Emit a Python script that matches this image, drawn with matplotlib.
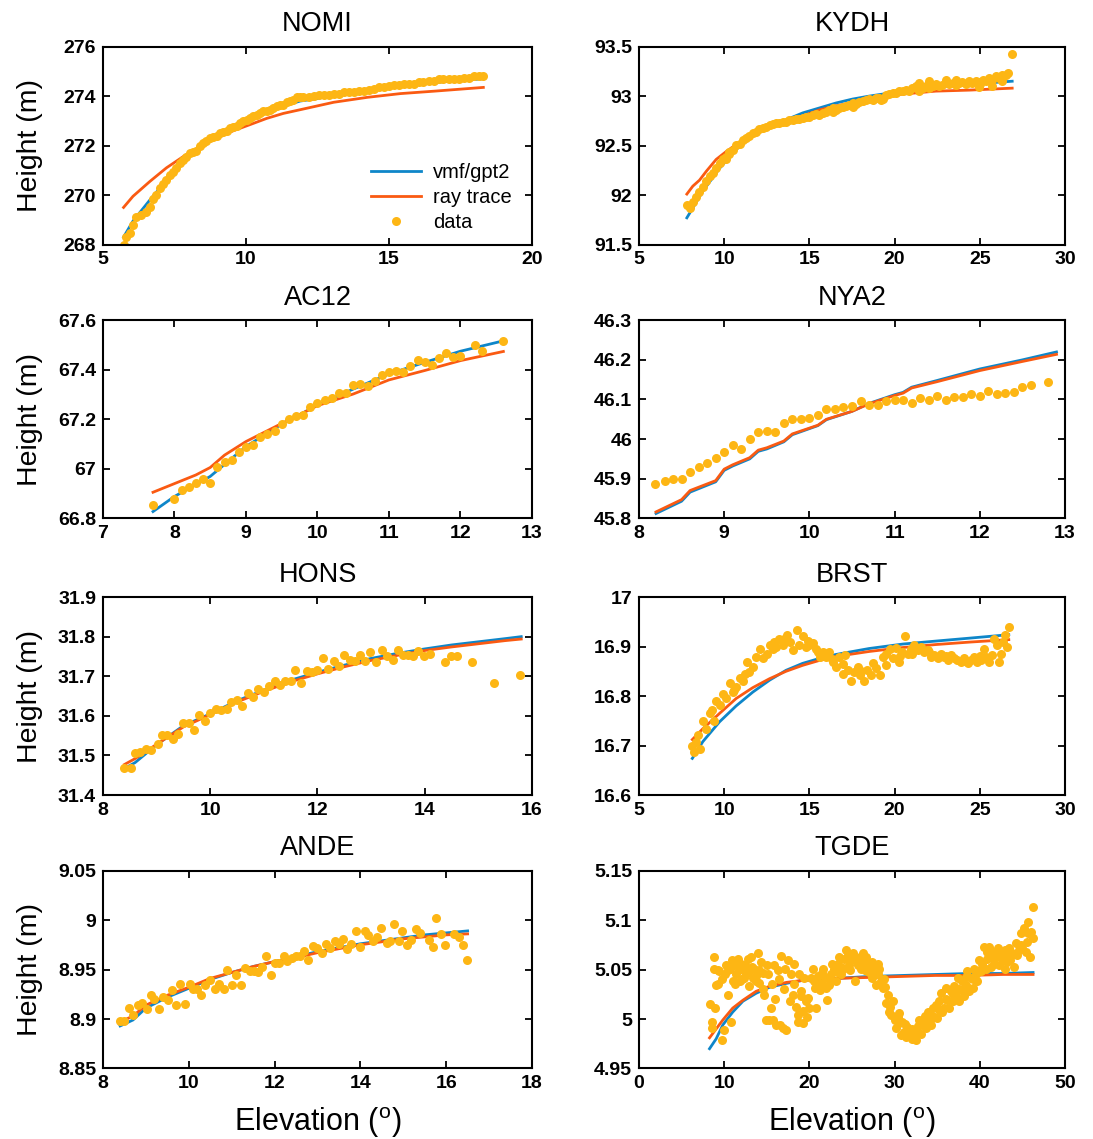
import numpy as np
import matplotlib.pyplot as plt
from matplotlib.ticker import FuncFormatter

plt.rcParams['font.family'] = ['Liberation Sans', 'DejaVu Sans']
plt.rcParams['mathtext.fontset'] = 'custom'
plt.rcParams['mathtext.rm'] = 'Liberation Sans'

BLUE = '#0E86C9'
ORANGE = '#FA5A12'
YELLOW = '#FDB614'

# ---------------- NOMI ----------------
nomi_obs = [(5.72, 268.0), (5.82, 268.3), (5.93, 268.45), (6.05, 268.8), (6.17, 269.1), (6.34, 269.2),
            (6.52, 269.3), (6.64, 269.5), (6.75, 269.85), (6.87, 270.0), (6.99, 270.3), (7.1, 270.45),
            (7.22, 270.6), (7.34, 270.8), (7.45, 270.95), (7.57, 271.1), (7.69, 271.3), (7.8, 271.4),
            (7.92, 271.55), (8.04, 271.7), (8.15, 271.75), (8.27, 271.8), (8.39, 272.0), (8.5, 272.1),
            (8.62, 272.2), (8.74, 272.3), (8.85, 272.35), (8.97, 272.4), (9.09, 272.5), (9.2, 272.55),
            (9.32, 272.6), (9.44, 272.7), (9.56, 272.75), (9.67, 272.8), (9.79, 272.9), (9.91, 273.0),
            (10.03, 273.05), (10.15, 273.1), (10.26, 273.2), (10.38, 273.25), (10.5, 273.3), (10.61, 273.4),
            (10.73, 273.4), (10.85, 273.45), (10.96, 273.5), (11.08, 273.6), (11.2, 273.65), (11.31, 273.65),
            (11.43, 273.75), (11.55, 273.8), (11.66, 273.85), (11.78, 273.95), (11.9, 273.95), (12.0, 273.95),
            (12.2, 273.95), (12.37, 274.0), (12.55, 274.05), (12.72, 274.05), (12.9, 274.05), (13.07, 274.1),
            (13.25, 274.1), (13.43, 274.15), (13.6, 274.15), (13.78, 274.15), (13.95, 274.2), (14.13, 274.2),
            (14.3, 274.25), (14.48, 274.3), (14.65, 274.35), (14.83, 274.35), (15.0, 274.4), (15.17, 274.45),
            (15.35, 274.45), (15.52, 274.5), (15.7, 274.5), (15.87, 274.5), (16.05, 274.55), (16.2, 274.55),
            (16.4, 274.6), (16.57, 274.6), (16.74, 274.7), (16.9, 274.7), (17.1, 274.7), (17.27, 274.7),
            (17.45, 274.7), (17.62, 274.75), (17.8, 274.75), (17.97, 274.8), (18.15, 274.8), (18.3, 274.8)]
nomi_vmf_el = [5.72, 6.05, 6.64, 7.22, 7.8, 8.39, 8.97, 9.56, 10.15, 10.73, 11.31, 11.9, 12.5, 13.07, 14.25, 15.4, 16.6, 18.3]
nomi_vmf = [268.3, 268.95, 269.8, 270.6, 271.35, 271.9, 272.4, 272.8, 273.1, 273.4, 273.6, 273.8, 273.9, 274.05, 274.25, 274.4, 274.55, 274.7]
nomi_ray_el = [5.72, 6.05, 6.64, 7.22, 7.8, 8.39, 8.97, 9.56, 10.15, 10.73, 11.31, 11.9, 13.07, 14.25, 15.4, 16.6, 18.3]
nomi_ray = [269.5, 269.95, 270.55, 271.1, 271.55, 271.95, 272.3, 272.6, 272.85, 273.1, 273.3, 273.45, 273.75, 273.95, 274.1, 274.2, 274.35]

# ---------------- KYDH ----------------
kydh_obs = [(7.81, 91.9), (7.97, 91.87), (8.16, 91.93), (8.36, 91.98), (8.55, 92.03), (8.75, 92.08), (8.95, 92.14),
            (9.14, 92.19), (9.34, 92.22), (9.53, 92.27), (9.73, 92.32), (9.92, 92.36), (10.12, 92.38), (10.31, 92.44),
            (10.51, 92.46), (10.7, 92.51), (10.9, 92.52), (11.09, 92.56), (11.29, 92.58), (11.48, 92.6), (11.68, 92.63),
            (11.88, 92.64), (12.07, 92.67), (12.27, 92.68), (12.46, 92.69), (12.66, 92.71), (12.85, 92.72), (13.05, 92.73),
            (13.24, 92.73), (13.44, 92.74), (13.63, 92.74), (13.83, 92.76), (14.02, 92.76), (14.22, 92.77), (14.41, 92.77),
            (14.61, 92.78), (14.8, 92.79), (15.0, 92.79), (15.2, 92.81), (15.39, 92.82), (15.59, 92.81), (15.78, 92.83),
            (15.98, 92.84), (16.17, 92.86), (16.37, 92.88), (16.56, 92.86), (16.76, 92.88), (16.95, 92.89), (17.15, 92.9),
            (17.34, 92.91), (17.54, 92.93), (17.73, 92.92), (17.93, 92.94), (18.13, 92.95), (18.32, 92.96), (18.52, 92.97),
            (18.71, 92.96), (18.91, 92.98), (19.1, 92.98), (19.3, 92.97), (19.49, 93.01), (19.69, 93.02), (19.88, 93.03),
            (20.08, 93.03), (20.27, 93.05), (20.47, 93.05), (20.66, 93.06), (20.86, 93.05), (21.05, 93.08), (21.25, 93.1),
            (21.45, 93.13), (21.64, 93.08), (21.84, 93.1), (22.03, 93.15), (22.23, 93.1), (22.42, 93.12), (22.62, 93.1),
            (22.81, 93.11), (23.0, 93.16), (23.2, 93.12), (23.4, 93.13), (23.59, 93.11), (23.79, 93.13), (23.98, 93.14),
            (24.18, 93.12), (24.38, 93.15), (24.57, 93.13), (24.77, 93.15), (24.96, 93.14), (25.16, 93.16), (25.35, 93.15),
            (25.55, 93.18), (25.74, 93.16), (25.94, 93.2), (26.13, 93.18), (26.33, 93.21), (26.52, 93.21), (26.68, 93.23),
            (26.88, 93.43), (22.03, 93.08), (24.96, 93.09), (25.74, 93.1), (23.59, 93.16), (21.45, 93.05), (16.37, 92.84),
            (10.31, 92.41), (10.12, 92.36), (17.54, 92.89), (19.2, 92.96), (26.3, 93.15), (25.0, 93.12)]
kydh_vmf_el = [7.81, 8.16, 8.75, 9.73, 10.7, 11.68, 12.66, 13.63, 14.61, 15.59, 16.56, 17.54, 18.52, 20.47, 22.42, 24.38, 26.9]
kydh_vmf = [91.77, 91.87, 92.04, 92.27, 92.46, 92.6, 92.69, 92.76, 92.83, 92.88, 92.93, 92.97, 93.0, 93.05, 93.09, 93.12, 93.15]
kydh_ray_el = [7.81, 8.16, 8.55, 8.95, 9.53, 10.12, 10.7, 11.68, 12.66, 13.63, 14.61, 15.59, 16.56, 18.52, 20.47, 22.42, 24.38, 26.9]
kydh_ray = [92.01, 92.09, 92.15, 92.24, 92.36, 92.44, 92.51, 92.61, 92.69, 92.74, 92.8, 92.86, 92.9, 92.97, 93.02, 93.05, 93.06, 93.08]

# ---------------- AC12 ----------------
ac12_obs = [(7.7, 66.855), (8.0, 66.878), (8.1, 66.913), (8.2, 66.926), (8.3, 66.944), (8.4, 66.96), (8.5, 66.944),
            (8.6, 67.009), (8.7, 67.026), (8.8, 67.037), (8.9, 67.068), (9.0, 67.086), (9.1, 67.098), (9.2, 67.127),
            (9.3, 67.14), (9.4, 67.151), (9.5, 67.181), (9.6, 67.2), (9.7, 67.212), (9.8, 67.216), (9.9, 67.249),
            (10.0, 67.265), (10.1, 67.277), (10.2, 67.285), (10.3, 67.307), (10.4, 67.307), (10.5, 67.337), (10.6, 67.341),
            (10.7, 67.336), (10.8, 67.356), (10.9, 67.379), (11.0, 67.39), (11.1, 67.395), (11.2, 67.39), (11.3, 67.414),
            (11.4, 67.438), (11.5, 67.433), (11.6, 67.42), (11.7, 67.449), (11.8, 67.468), (11.9, 67.45), (12.0, 67.455),
            (12.2, 67.5), (12.3, 67.474), (12.6, 67.516)]
ac12_vmf_el = [7.7, 8.0, 8.5, 9.0, 9.5, 10.0, 10.5, 11.0, 11.5, 12.0, 12.6]
ac12_vmf = [66.827, 66.888, 66.969, 67.09, 67.18, 67.257, 67.322, 67.383, 67.43, 67.475, 67.517]
ac12_ray_el = [7.7, 8.0, 8.3, 8.5, 8.7, 9.0, 9.5, 10.0, 10.5, 11.0, 11.5, 12.0, 12.6]
ac12_ray = [66.905, 66.94, 66.975, 67.005, 67.055, 67.11, 67.183, 67.255, 67.302, 67.359, 67.397, 67.437, 67.474]

# ---------------- NYA2 ----------------
nya2_obs = [(8.19, 45.886), (8.3, 45.893), (8.4, 45.9), (8.5, 45.9), (8.6, 45.916), (8.7, 45.93), (8.8, 45.939),
            (8.9, 45.953), (9.0, 45.968), (9.1, 45.986), (9.2, 45.975), (9.3, 46.0), (9.4, 46.017), (9.5, 46.02),
            (9.6, 46.017), (9.7, 46.04), (9.8, 46.05), (9.9, 46.05), (10.0, 46.054), (10.1, 46.06), (10.2, 46.076),
            (10.3, 46.076), (10.4, 46.08), (10.5, 46.083), (10.6, 46.095), (10.7, 46.087), (10.8, 46.087), (10.9, 46.095),
            (11.0, 46.099), (11.1, 46.099), (11.2, 46.091), (11.3, 46.103), (11.4, 46.099), (11.5, 46.109), (11.6, 46.099),
            (11.7, 46.105), (11.8, 46.105), (11.9, 46.114), (12.0, 46.109), (12.1, 46.122), (12.2, 46.114), (12.3, 46.117),
            (12.4, 46.12), (12.5, 46.132), (12.6, 46.136), (12.8, 46.143)]
nya2_vmf_el = [8.2, 8.5, 8.6, 8.9, 9.0, 9.1, 9.3, 9.4, 9.5, 9.7, 9.8, 10.1, 10.2, 10.5, 10.7, 11.0, 11.1, 11.2, 11.5, 12.0, 12.5, 12.9]
nya2_vmf = [45.812, 45.843, 45.866, 45.892, 45.921, 45.932, 45.95, 45.969, 45.975, 45.993, 46.011, 46.034, 46.049, 46.07, 46.09,
            46.112, 46.118, 46.131, 46.148, 46.177, 46.2, 46.22]
nya2_ray_el = [8.2, 8.5, 8.6, 8.9, 9.0, 9.1, 9.3, 9.4, 9.5, 9.7, 9.8, 10.1, 10.2, 10.5, 10.7, 11.0, 11.1, 11.2, 11.5, 12.0, 12.5, 12.9]
nya2_ray = [45.816, 45.847, 45.87, 45.895, 45.924, 45.935, 45.953, 45.972, 45.978, 45.995, 46.013, 46.035, 46.05, 46.07, 46.089,
            46.11, 46.116, 46.129, 46.145, 46.173, 46.196, 46.214]

# ---------------- HONS ----------------
hons_obs = [(8.39, 31.467), (8.52, 31.467), (8.59, 31.505), (8.7, 31.509), (8.81, 31.516), (8.9, 31.513), (9.02, 31.528),
            (9.1, 31.551), (9.2, 31.551), (9.3, 31.542), (9.4, 31.555), (9.5, 31.583), (9.6, 31.583), (9.69, 31.565),
            (9.8, 31.602), (9.91, 31.587), (10.0, 31.608), (10.1, 31.617), (10.2, 31.614), (10.31, 31.617), (10.39, 31.636),
            (10.5, 31.64), (10.6, 31.624), (10.7, 31.658), (10.79, 31.647), (10.9, 31.669), (11.0, 31.661), (11.1, 31.676),
            (11.2, 31.687), (11.3, 31.678), (11.4, 31.687), (11.5, 31.687), (11.59, 31.716), (11.7, 31.684), (11.8, 31.713),
            (11.9, 31.711), (12.0, 31.716), (12.1, 31.745), (12.2, 31.719), (12.3, 31.739), (12.41, 31.726), (12.5, 31.753),
            (12.6, 31.742), (12.7, 31.739), (12.79, 31.753), (12.89, 31.739), (12.98, 31.761), (13.1, 31.735), (13.2, 31.767),
            (13.29, 31.75), (13.4, 31.742), (13.5, 31.767), (13.59, 31.753), (13.69, 31.753), (13.79, 31.75), (13.88, 31.764),
            (13.99, 31.75), (14.09, 31.756), (14.38, 31.735), (14.49, 31.75), (14.6, 31.75), (14.88, 31.735), (15.29, 31.684),
            (15.78, 31.703)]
hons_vmf_el = [8.4, 8.6, 9.0, 9.5, 10.0, 10.5, 11.0, 11.5, 12.0, 12.5, 13.0, 13.5, 14.0, 14.5, 15.0, 15.5, 15.8]
hons_vmf = [31.467, 31.482, 31.527, 31.575, 31.605, 31.638, 31.665, 31.69, 31.71, 31.728, 31.745, 31.758, 31.769, 31.779, 31.787,
            31.795, 31.8]
hons_ray_el = [8.4, 8.6, 9.0, 9.5, 10.0, 10.5, 11.0, 11.5, 12.0, 12.5, 13.0, 13.5, 14.0, 14.5, 15.0, 15.5, 15.8]
hons_ray = [31.477, 31.492, 31.528, 31.572, 31.603, 31.635, 31.662, 31.686, 31.706, 31.724, 31.74, 31.753, 31.765, 31.774, 31.782,
            31.79, 31.794]

# ---------------- BRST ----------------
brst_obs = [(8.13, 16.7), (8.2, 16.687), (8.36, 16.708), (8.48, 16.722), (8.59, 16.694), (8.75, 16.749), (8.95, 16.734),
            (9.14, 16.765), (9.38, 16.749), (9.53, 16.79), (9.73, 16.782), (9.96, 16.805), (10.12, 16.796), (10.35, 16.827),
            (10.5, 16.808), (10.7, 16.819), (10.9, 16.837), (11.1, 16.83), (11.33, 16.869), (11.48, 16.849), (11.68, 16.859),
            (11.88, 16.879), (12.11, 16.895), (12.3, 16.876), (12.5, 16.884), (12.66, 16.904), (12.85, 16.895), (13.05, 16.9),
            (13.24, 16.916), (13.44, 16.903), (13.67, 16.924), (13.87, 16.909), (14.02, 16.893), (14.26, 16.934),
            (14.41, 16.903), (14.61, 16.922), (14.8, 16.9), (15.0, 16.903), (15.23, 16.907), (15.39, 16.895), (15.62, 16.879),
            (15.78, 16.889), (15.98, 16.879), (16.17, 16.888), (16.37, 16.869), (16.56, 16.859), (16.76, 16.879),
            (16.95, 16.845), (17.11, 16.882), (17.27, 16.852), (17.44, 16.83), (17.64, 16.849), (17.83, 16.859),
            (17.97, 16.842), (18.2, 16.83), (18.36, 16.852), (18.61, 16.842), (18.75, 16.866), (18.91, 16.856),
            (19.14, 16.842), (19.3, 16.879), (19.49, 16.862), (19.73, 16.896), (19.88, 16.876), (20.08, 16.897),
            (20.23, 16.869), (20.43, 16.889), (20.63, 16.922), (20.77, 16.885), (20.96, 16.896), (21.15, 16.904),
            (21.35, 16.893), (21.55, 16.9), (21.74, 16.888), (21.94, 16.893), (22.13, 16.879), (22.33, 16.882),
            (22.52, 16.876), (22.72, 16.885), (22.91, 16.879), (23.11, 16.872), (23.3, 16.882), (23.5, 16.876),
            (23.69, 16.872), (23.89, 16.869), (24.08, 16.876), (24.28, 16.866), (24.47, 16.872), (24.67, 16.879),
            (24.86, 16.869), (25.06, 16.872), (25.25, 16.896), (25.35, 16.879), (25.55, 16.869), (25.7, 16.882),
            (25.84, 16.916), (25.98, 16.903), (26.1, 16.869), (26.23, 16.885), (26.37, 16.909), (26.48, 16.923),
            (26.62, 16.9), (26.72, 16.94), (12.9, 16.91), (13.5, 16.915), (14.9, 16.912), (15.5, 16.89),
            (16.3, 16.875), (10.6, 16.812), (11.2, 16.845), (9.3, 16.772), (17.0, 16.865), (18.0, 16.85), (21.0, 16.885),
            (22.0, 16.89), (23.0, 16.88), (24.0, 16.87), (25.0, 16.88), (19.5, 16.885), (20.3, 16.88)]
brst_vmf_el = [8.13, 8.75, 9.73, 10.7, 11.68, 12.66, 13.63, 14.6, 15.59, 16.56, 18.5, 20.47, 22.4, 24.4, 26.7]
brst_vmf = [16.674, 16.708, 16.748, 16.78, 16.808, 16.832, 16.852, 16.866, 16.876, 16.884, 16.896, 16.905, 16.911, 16.917, 16.924]
brst_ray_el = [8.13, 8.75, 9.73, 10.7, 11.68, 12.66, 13.63, 14.6, 15.59, 16.56, 18.5, 20.47, 22.4, 24.4, 26.7]
brst_ray = [16.712, 16.734, 16.765, 16.795, 16.817, 16.835, 16.85, 16.862, 16.872, 16.88, 16.89, 16.898, 16.904, 16.909, 16.914]

# ---------------- ANDE ----------------
ande_obs = [(8.39, 8.898), (8.49, 8.898), (8.61, 8.911), (8.71, 8.904), (8.81, 8.914), (8.92, 8.916), (9.02, 8.91),
            (9.11, 8.924), (9.2, 8.92), (9.3, 8.91), (9.39, 8.922), (9.51, 8.919), (9.6, 8.929), (9.71, 8.914),
            (9.8, 8.935), (9.92, 8.915), (10.02, 8.935), (10.11, 8.93), (10.2, 8.93), (10.29, 8.924), (10.39, 8.934),
            (10.49, 8.939), (10.6, 8.93), (10.7, 8.935), (10.81, 8.93), (10.9, 8.95), (11.01, 8.934), (11.11, 8.944),
            (11.21, 8.934), (11.31, 8.952), (11.42, 8.949), (11.52, 8.949), (11.62, 8.947), (11.7, 8.953), (11.8, 8.964),
            (11.91, 8.944), (12.0, 8.957), (12.11, 8.957), (12.21, 8.964), (12.3, 8.959), (12.41, 8.962), (12.51, 8.964),
            (12.6, 8.964), (12.69, 8.969), (12.79, 8.96), (12.9, 8.974), (13.0, 8.972), (13.1, 8.967), (13.21, 8.976),
            (13.3, 8.972), (13.41, 8.979), (13.5, 8.976), (13.59, 8.981), (13.69, 8.971), (13.79, 8.976), (13.89, 8.989),
            (13.99, 8.973), (14.1, 8.989), (14.18, 8.985), (14.3, 8.979), (14.39, 8.983), (14.49, 8.992), (14.61, 8.977),
            (14.69, 8.979), (14.78, 8.996), (14.89, 8.979), (14.98, 8.989), (15.08, 8.975), (15.18, 8.98), (15.29, 8.991),
            (15.39, 8.987), (15.59, 8.98), (15.7, 8.973), (15.77, 9.002), (15.88, 8.986), (15.98, 8.975), (16.19, 8.986),
            (16.29, 8.983), (16.39, 8.975), (16.49, 8.96)]
ande_vmf_el = [8.4, 8.7, 9.0, 9.5, 10.0, 10.5, 11.0, 11.5, 12.0, 12.5, 13.0, 13.5, 14.0, 14.5, 15.0, 15.5, 16.0, 16.5]
ande_vmf = [8.893, 8.899, 8.911, 8.922, 8.931, 8.94, 8.947, 8.953, 8.958, 8.963, 8.968, 8.972, 8.976, 8.979, 8.982, 8.985,
            8.987, 8.989]
ande_ray_el = [8.4, 8.7, 9.0, 9.5, 10.0, 10.5, 11.0, 11.5, 12.0, 12.5, 13.0, 13.5, 14.0, 14.5, 15.0, 15.5, 16.0, 16.5]
ande_ray = [8.897, 8.903, 8.914, 8.924, 8.932, 8.941, 8.947, 8.953, 8.958, 8.962, 8.967, 8.971, 8.975, 8.978, 8.981, 8.983,
            8.985, 8.986]

# ---------------- TGDE ----------------
tgde_obs = [(8.36, 5.015), (8.52, 4.991), (8.59, 4.997), (8.75, 5.063), (8.75, 5.051), (8.98, 5.011), (9.06, 5.034),
            (9.26, 5.035), (9.45, 5.048), (9.77, 4.979), (10.0, 4.989), (10.23, 5.055), (10.43, 5.024), (10.63, 5.051),
            (10.82, 4.997), (11.0, 5.038), (11.2, 5.055), (11.4, 5.045), (11.6, 5.061), (11.8, 5.038), (12.0, 5.056),
            (12.19, 5.051), (12.38, 5.041), (12.58, 5.045), (12.77, 5.061), (12.97, 5.033), (13.16, 5.063),
            (13.36, 5.041), (13.55, 5.051), (13.75, 5.043), (13.95, 5.067), (14.14, 5.036), (14.34, 5.058),
            (14.53, 5.046), (14.73, 5.024), (14.92, 4.999), (15.0, 5.055), (15.31, 4.999), (15.5, 5.011), (15.7, 4.999),
            (15.9, 5.055), (16.1, 4.994), (16.3, 5.05), (16.5, 4.994), (16.7, 5.064), (16.9, 4.991), (17.1, 5.051),
            (17.3, 4.989), (17.5, 5.06), (17.7, 5.018), (17.85, 5.045), (18.05, 5.024), (18.24, 5.056), (18.44, 5.012),
            (18.63, 5.004), (18.7, 4.997), (18.83, 5.045), (19.02, 5.023), (19.2, 4.996), (19.4, 5.041), (19.6, 5.018),
            (19.8, 5.021), (20.0, 5.011), (20.2, 5.041), (20.4, 5.051), (20.6, 5.031), (20.8, 5.011), (21.0, 5.043),
            (21.2, 5.029), (21.4, 5.036), (21.6, 5.051), (21.8, 5.041), (22.0, 5.031), (22.1, 5.019), (22.3, 5.034),
            (22.5, 5.045), (22.7, 5.056), (22.9, 5.051), (23.1, 5.038), (23.3, 5.056), (23.5, 5.063), (23.7, 5.045),
            (23.9, 5.051), (24.1, 5.061), (24.3, 5.07), (24.5, 5.065), (24.7, 5.055), (24.9, 5.06), (25.1, 5.067),
            (25.3, 5.038), (25.5, 5.061), (25.7, 5.055), (25.9, 5.063), (26.1, 5.051), (26.25, 5.067), (26.45, 5.058),
            (26.65, 5.063), (26.8, 5.048), (27.0, 5.055), (27.2, 5.045), (27.4, 5.041), (27.6, 5.051), (27.8, 5.034),
            (28.0, 5.045), (28.2, 5.051), (28.4, 5.038), (28.6, 5.031), (28.8, 5.04), (29.0, 5.016), (29.2, 5.024),
            (29.4, 5.007), (29.6, 5.004), (29.8, 5.018), (30.0, 4.999), (30.2, 4.991), (30.35, 5.002), (30.55, 4.996),
            (30.75, 4.984), (30.9, 4.997), (31.1, 4.987), (31.3, 4.982), (31.5, 4.992), (31.7, 4.985), (31.9, 4.989),
            (32.1, 4.98), (32.3, 4.984), (32.5, 4.979), (32.7, 4.987), (32.9, 4.999), (33.1, 4.985), (33.3, 4.994),
            (33.5, 4.997), (33.7, 4.991), (33.9, 5.007), (34.1, 4.999), (34.3, 4.994), (34.45, 5.011), (34.65, 5.002),
            (34.85, 5.014), (35.0, 5.001), (35.2, 5.018), (35.4, 5.026), (35.6, 5.007), (35.8, 5.011), (36.0, 5.031),
            (36.2, 5.019), (36.4, 5.011), (36.6, 5.028), (36.8, 5.018), (37.0, 5.033), (37.2, 5.023), (37.4, 5.041),
            (37.6, 5.018), (37.8, 5.029), (37.95, 5.038), (38.15, 5.023), (38.35, 5.034), (38.55, 5.048), (38.75, 5.028),
            (38.95, 5.041), (39.15, 5.031), (39.35, 5.051), (39.5, 5.045), (39.7, 5.038), (39.9, 5.06), (40.1, 5.048),
            (40.3, 5.056), (40.5, 5.073), (40.7, 5.051), (40.9, 5.061), (41.1, 5.073), (41.3, 5.053), (41.5, 5.068),
            (41.7, 5.056), (41.9, 5.063), (42.1, 5.072), (42.3, 5.055), (42.5, 5.065), (42.7, 5.06), (42.9, 5.07),
            (43.0, 5.051), (43.2, 5.063), (43.4, 5.072), (43.6, 5.06), (43.8, 5.067), (44.0, 5.053), (44.2, 5.077),
            (44.4, 5.065), (44.6, 5.07), (44.8, 5.087), (45.0, 5.072), (45.2, 5.092), (45.4, 5.068), (45.6, 5.087),
            (45.7, 5.098), (45.85, 5.063), (46.0, 5.088), (46.2, 5.082), (46.25, 5.113),
            (10.1, 5.045), (10.5, 5.05), (10.9, 5.06), (11.3, 5.035), (11.7, 5.05), (12.1, 5.04), (12.5, 5.055),
            (12.9, 5.048), (13.3, 5.053), (13.7, 5.038), (14.1, 5.05), (14.5, 5.03), (9.3, 5.05), (9.8, 5.04),
            (15.2, 5.045), (15.6, 5.035), (16.0, 5.02), (16.4, 5.04), (17.0, 5.03), (18.2, 5.035), (19.0, 5.028),
            (19.3, 5.008), (19.7, 5.002), (20.5, 5.038), (21.5, 5.046), (22.4, 5.04), (23.2, 5.047), (24.0, 5.052),
            (24.8, 5.05), (25.6, 5.058), (26.5, 5.05), (27.3, 5.058), (28.1, 5.056), (28.9, 5.032), (29.5, 5.012),
            (30.5, 5.006), (31.2, 4.995), (32.0, 4.99), (32.8, 4.993), (33.6, 5.003), (34.4, 5.003), (35.2, 5.009),
            (36.0, 5.02), (36.8, 5.025), (37.6, 5.03), (38.4, 5.042), (39.2, 5.04), (40.0, 5.05), (40.8, 5.068),
            (41.6, 5.062), (42.4, 5.068), (43.2, 5.058), (44.0, 5.066), (44.8, 5.075), (45.5, 5.078)]
tgde_vmf_el = [8.28, 9.06, 9.84, 11.0, 12.2, 13.75, 15.3, 17.3, 19.2, 23.1, 27.0, 30.9, 34.8, 38.75, 42.7, 46.25]
tgde_vmf = [4.970, 4.98, 4.994, 5.007, 5.018, 5.026, 5.032, 5.036, 5.039, 5.041, 5.043, 5.044, 5.045, 5.046, 5.046, 5.047]
tgde_ray_el = [8.28, 9.06, 9.84, 11.0, 12.2, 13.75, 15.3, 17.3, 19.2, 23.1, 27.0, 30.9, 34.8, 38.75, 42.7, 46.25]
tgde_ray = [4.981, 4.99, 4.999, 5.011, 5.019, 5.028, 5.033, 5.037, 5.039, 5.041, 5.042, 5.043, 5.044, 5.044, 5.045, 5.045]

# axis ticks per station
nomi_xt, nomi_yt = [5, 10, 15, 20], [268, 270, 272, 274, 276]
kydh_xt, kydh_yt = [5, 10, 15, 20, 25, 30], [91.5, 92, 92.5, 93, 93.5]
ac12_xt, ac12_yt = [7, 8, 9, 10, 11, 12, 13], [66.8, 67, 67.2, 67.4, 67.6]
nya2_xt, nya2_yt = [8, 9, 10, 11, 12, 13], [45.8, 45.9, 46, 46.1, 46.2, 46.3]
hons_xt, hons_yt = [8, 10, 12, 14, 16], [31.4, 31.5, 31.6, 31.7, 31.8, 31.9]
brst_xt, brst_yt = [5, 10, 15, 20, 25, 30], [16.6, 16.7, 16.8, 16.9, 17]
ande_xt, ande_yt = [8, 10, 12, 14, 16, 18], [8.85, 8.9, 8.95, 9, 9.05]
tgde_xt, tgde_yt = [0, 10, 20, 30, 40, 50], [4.95, 5, 5.05, 5.1, 5.15]

panels = [
    ('NOMI', nomi_obs, nomi_vmf_el, nomi_vmf, nomi_ray_el, nomi_ray, nomi_xt, nomi_yt),
    ('KYDH', kydh_obs, kydh_vmf_el, kydh_vmf, kydh_ray_el, kydh_ray, kydh_xt, kydh_yt),
    ('AC12', ac12_obs, ac12_vmf_el, ac12_vmf, ac12_ray_el, ac12_ray, ac12_xt, ac12_yt),
    ('NYA2', nya2_obs, nya2_vmf_el, nya2_vmf, nya2_ray_el, nya2_ray, nya2_xt, nya2_yt),
    ('HONS', hons_obs, hons_vmf_el, hons_vmf, hons_ray_el, hons_ray, hons_xt, hons_yt),
    ('BRST', brst_obs, brst_vmf_el, brst_vmf, brst_ray_el, brst_ray, brst_xt, brst_yt),
    ('ANDE', ande_obs, ande_vmf_el, ande_vmf, ande_ray_el, ande_ray, ande_xt, ande_yt),
    ('TGDE', tgde_obs, tgde_vmf_el, tgde_vmf, tgde_ray_el, tgde_ray, tgde_xt, tgde_yt),
]

fig = plt.figure(figsize=(10.93, 11.39), dpi=100)
lefts = [0.0942, 0.5846]
widths = [0.3925, 0.3898]
bottoms = [0.7853, 0.545, 0.302, 0.0619]
height = 0.1738
fmt = FuncFormatter(lambda v, p: f'{v:g}')

for i, (name, obs, vx, vy, rx, ry, xt, yt) in enumerate(panels):
    row, col = divmod(i, 2)
    ax = fig.add_axes([lefts[col], bottoms[row], widths[col], height])
    obs = np.array(obs)
    ax.plot(vx, vy, color=BLUE, lw=2, label='vmf/gpt2')
    ax.plot(rx, ry, color=ORANGE, lw=2, label='ray trace')
    ax.plot(obs[:, 0], obs[:, 1], 'o', color=YELLOW, ms=6.5, mec='none', label='data')

    ax.set_xlim(xt[0], xt[-1])
    ax.set_ylim(yt[0], yt[-1])
    ax.set_xticks(xt)
    ax.set_yticks(yt)
    ax.xaxis.set_major_formatter(fmt)
    ax.yaxis.set_major_formatter(fmt)
    ax.tick_params(direction='in', top=True, right=True, length=5, width=1.3, labelsize=14, pad=5)
    for lab in ax.get_xticklabels() + ax.get_yticklabels():
        lab.set_fontweight('bold')
    for sp in ax.spines.values():
        sp.set_linewidth(1.5)

    ax.set_title(name, fontsize=19.5, pad=11)
    if col == 0:
        ax.set_ylabel('Height (m)', fontsize=20.5)
        ax.yaxis.set_label_coords(-0.14, 0.5)
    if row == 3:
        ax.set_xlabel(r'Elevation ($^{\rm o}$)', fontsize=22)
        ax.xaxis.set_label_coords(0.5, -0.185)
    if i == 0:
        ax.legend(loc='lower right', bbox_to_anchor=(0.995, -0.03), frameon=False, fontsize=14.5,
                  handlelength=2.5, handletextpad=0.6, labelspacing=0.3)

fig.savefig('out.png', dpi=100)
